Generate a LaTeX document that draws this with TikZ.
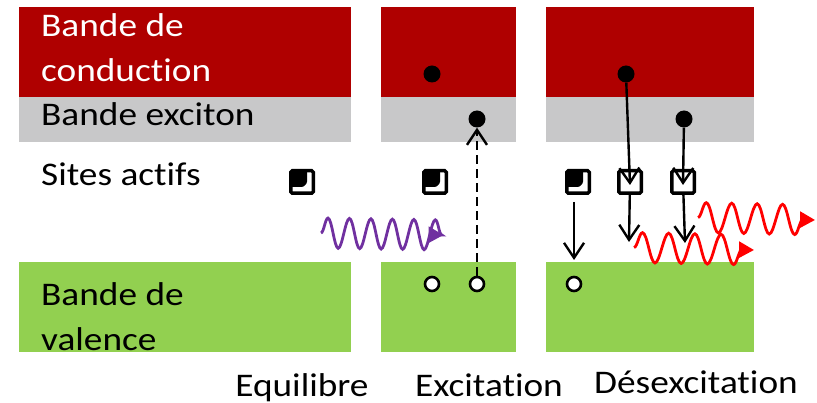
\documentclass[tikz,border=0pt]{standalone}
\usepackage{fontspec}
\setmainfont{Carlito}[FakeStretch=1.13,Ligatures=NoCommon]
\usetikzlibrary{arrows.meta,decorations.pathmorphing}
\definecolor{condred}{RGB}{175,0,0}
\definecolor{excgray}{RGB}{200,200,201}
\definecolor{valgreen}{RGB}{146,208,80}
\definecolor{photviolet}{RGB}{112,48,160}
\begin{document}
\begin{tikzpicture}
[x=1pt,y=-1pt,
 bandtext/.style={anchor=base west,inner sep=0pt,align=left,
   font=\fontsize{33}{45}\selectfont},
 steptext/.style={anchor=base,inner sep=0pt,font=\fontsize{33}{45}\selectfont},
 electrondecorate/.style={shape=circle,fill=black,inner sep=0pt,minimum size=17pt},
 holedecorate/.style={shape=circle,draw,fill=white,line width=2.6pt,
   inner sep=0pt,minimum size=14pt},
 sitedecorate/.style={shape=rectangle,draw,fill=white,line width=3.5pt,
   rounded corners=1.5pt,inner sep=0pt,minimum size=22.5pt},
 sitefilled/.style={sitedecorate,path picture={
   \fill[black,shift={(path picture bounding box.center)}] (-12pt,12pt)
     -- (5pt,12pt) -- (5pt,2pt) arc[start angle=0,end angle=-90,radius=7pt]
     -- (-12pt,-5pt) -- cycle;}},
 arrowdecorate/.style={-{Straight Barb[length=15pt,width=20pt]},line width=2.4pt},
 photondecorate/.style={draw=#1,line width=2.8pt,decorate,
   decoration={snake,amplitude=15pt,segment length=26.2pt,post length=0pt},
   -{Triangle[length=15pt,width=16pt]}}]
\useasboundingbox (0,0) rectangle (817,403);
%% bands
\foreach \xa/\xb in {19/351, 381/516, 546/754} {
  \fill[condred] (\xa,7) rectangle (\xb,97);
  \fill[excgray] (\xa,97) rectangle (\xb,142);
  \fill[valgreen] (\xa,262) rectangle (\xb,352);
}
%% labels
\node (lcond) at (41,81.7) [bandtext,text=white] {Bande de\\conduction};
\node (lexciton) at (41,125.7) [bandtext] {Bande exciton};
\node (lsites) at (41,185.5) [bandtext] {Sites actifs};
\node (lval) at (41,350.7) [bandtext] {Bande de\\valence};
\foreach \nodename/\x/\y/\txt in {lequ/302/396/Equilibre,
  lexcit/489/396/Excitation, ldesex/696/394/Désexcitation} {
  \node (\nodename) at (\x,\y) [steptext] {\txt};
}
%% electrons, holes and active sites
\foreach \nodename/\x/\y in {e1/432/74, e2/477/119, e3/626/74, e4/684/119} {
  \node (\nodename) at (\x,\y) [electrondecorate] {};
}
\foreach \nodename/\x/\y in {h1/432/284, h2/477/284, h3/574/284} {
  \node (\nodename) at (\x,\y) [holedecorate] {};
}
\foreach \nodename/\x/\kind in {s1/302/sitefilled, s2/435/sitefilled,
  s3/578/sitefilled, s4/630/sitedecorate, s5/683/sitedecorate} {
  \node (\nodename) at (\x,182) [\kind] {};
}
%% free ends
\coordinate (d3) at (574,260);
\coordinate (d4) at (629,242);
\coordinate (d5) at (685,243);
%% transitions
\draw[arrowdecorate,dash pattern=on 9pt off 5pt] (h2) -- (e2);
\draw[arrowdecorate] (e3) -- ([yshift=-3pt]s4.center);
\draw[arrowdecorate] (e4) -- ([yshift=-3pt]s5.center);
\draw[arrowdecorate] (s4) -- (d4);
\draw[arrowdecorate] (s5) -- (d5);
\draw[arrowdecorate,shorten <=7pt] (s3.south -| d3) -- (d3);
%% photons
\coordinate (p1) at (321,233);
\coordinate (p2) at (443.5,235);
\coordinate (r1) at (634,247.5);
\coordinate (r2) at (754,250);
\coordinate (q1) at (698,217.5);
\coordinate (q2) at (815,220);
\draw[photondecorate=photviolet,decoration={segment length=21.48pt}] (p1) -- (p2);
\draw[photondecorate=red] (r1) -- (r2);
\draw[photondecorate=red,decoration={segment length=25.45pt}] (q1) -- (q2);
\end{tikzpicture}
\end{document}
